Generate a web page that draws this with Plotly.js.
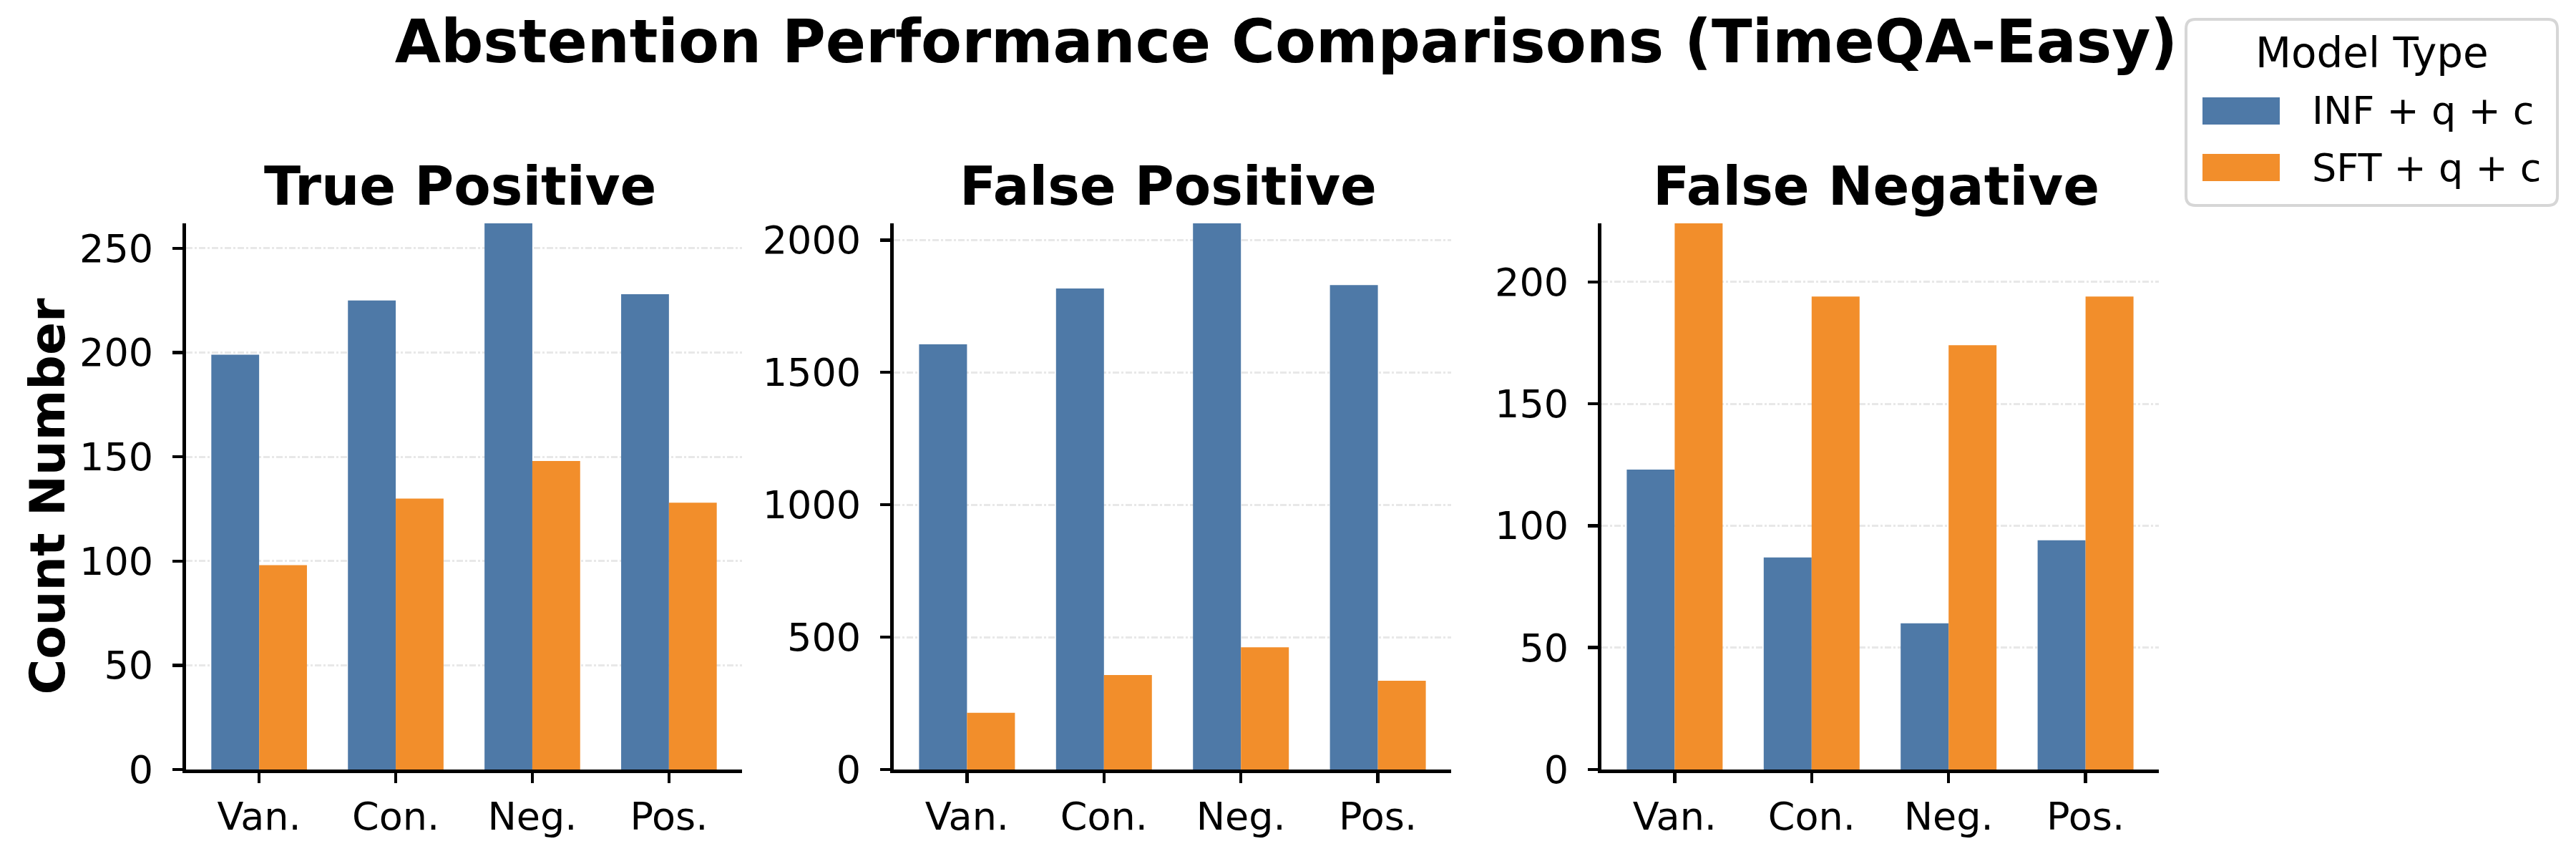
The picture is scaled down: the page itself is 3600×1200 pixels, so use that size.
<!DOCTYPE html>
<html>
<head>
<meta charset="utf-8">
<script src="https://cdn.plot.ly/plotly-3.0.1.min.js"></script>
<style>html,body{margin:0;padding:0;background:#fff;}</style>
</head>
<body>
<div id="chart" style="width:3600px;height:1200px;"></div>
<script>
// ---- data ----
const categories = ['Van.', 'Con.', 'Neg.', 'Pos.'];
const seriesNames = ['INF + q + c', 'SFT + q + c'];
const panelTitles = ['True Positive', 'False Positive', 'False Negative'];
const tpINF = [199, 225, 262, 228];
const tpSFT = [98, 130, 148, 128];
const fpINF = [1606, 1817, 2063, 1830];
const fpSFT = [214, 357, 462, 335];
const fnINF = [123, 87, 60, 94];
const fnSFT = [224, 194, 174, 194];
const yTickStep = [50, 500, 50];
const mainTitle = 'Abstention Performance Comparisons (TimeQA-Easy)';
const yLabel = 'Count Number';
const legendTitle = 'Model Type';

// ---- style ----
const W = 3600, H = 1200;
const colors = ['#4e79a7', '#f28e2b'];
const FONT = 'DejaVu Sans, sans-serif';
const TICK = 54;
const px = v => v / W;
const py = v => 1 - v / H;
const domainsX = [[260, 1037], [1249, 2028], [2238, 3017]];
const domainY = [py(1075), py(312)];

const panels = [[tpINF, tpSFT], [fpINF, fpSFT], [fnINF, fnSFT]];
const traces = [];
const layout = {
  width: W, height: H,
  margin: {l: 0, r: 0, t: 0, b: 0},
  paper_bgcolor: '#fff', plot_bgcolor: '#fff',
  font: {family: FONT, color: '#000', size: TICK},
  barmode: 'group', bargap: 0.3, bargroupgap: 0,
  showlegend: false,
  title: {text: '<b>' + mainTitle + '</b>', x: 0.4993, xanchor: 'center', xref: 'paper',
          y: py(58), yanchor: 'middle', yref: 'container',
          font: {family: FONT, size: 83, color: '#000'}},
  annotations: [], shapes: []
};

panels.forEach((pair, i) => {
  const xa = i === 0 ? 'x' : 'x' + (i + 1);
  const ya = i === 0 ? 'y' : 'y' + (i + 1);
  pair.forEach((vals, s) => {
    traces.push({
      type: 'bar', x: categories, y: vals, name: seriesNames[s],
      xaxis: xa, yaxis: ya, marker: {color: colors[s], line: {width: 0}},
      legendgroup: seriesNames[s], showlegend: false, hoverinfo: 'skip'
    });
  });
  const ymax = Math.max(...pair[0], ...pair[1]);
  const xKey = i === 0 ? 'xaxis' : 'xaxis' + (i + 1);
  const yKey = i === 0 ? 'yaxis' : 'yaxis' + (i + 1);
  layout[xKey] = {
    domain: [px(domainsX[i][0]), px(domainsX[i][1])], anchor: ya,
    type: 'category', range: [-0.535, 3.535],
    showline: true, linecolor: '#000', linewidth: 5,
    ticks: 'outside', ticklen: 14, tickwidth: 4.5, tickcolor: '#000',
    showgrid: false, zeroline: false, ticklabelstandoff: 0,
    tickfont: {family: FONT, size: TICK, color: '#000'}, fixedrange: true
  };
  layout[yKey] = {
    domain: domainY, anchor: xa, range: [0, ymax],
    showline: true, linecolor: '#000', linewidth: 5,
    ticks: 'outside', ticklen: 14, tickwidth: 4.5, tickcolor: '#000',
    dtick: yTickStep[i], tick0: 0,
    showgrid: true, gridcolor: '#e8e8e8', gridwidth: 3, griddash: 'dashdot',
    zeroline: false, ticklabelstandoff: 16,
    tickfont: {family: FONT, size: TICK, color: '#000'}, fixedrange: true
  };
  if (i === 0) {
    layout[yKey].title = {text: '<b>' + yLabel + '</b>', standoff: 0,
      font: {family: FONT, size: 68, color: '#000'}};
  }
  layout.annotations.push({
    text: '<b>' + panelTitles[i] + '</b>', xref: 'paper', yref: 'paper',
    x: px((domainsX[i][0] + domainsX[i][1]) / 2 - 6), xanchor: 'center',
    y: py(306), yanchor: 'bottom', showarrow: false,
    font: {family: FONT, size: 75, color: '#000'}
  });
});

// ---- legend (box, swatches, labels) ----
const lb = {x0: 3055, x1: 3574, y0: 27, y1: 287, r: 13};
const rx = lb.r / W, ry = lb.r / H;
const X0 = px(lb.x0), X1 = px(lb.x1), Y0 = py(lb.y1), Y1 = py(lb.y0);
layout.shapes.push({
  type: 'path', xref: 'paper', yref: 'paper',
  path: `M ${X0 + rx},${Y0} L ${X1 - rx},${Y0} Q ${X1},${Y0} ${X1},${Y0 + ry} L ${X1},${Y1 - ry} Q ${X1},${Y1} ${X1 - rx},${Y1} L ${X0 + rx},${Y1} Q ${X0},${Y1} ${X0},${Y1 - ry} L ${X0},${Y0 + ry} Q ${X0},${Y0} ${X0 + rx},${Y0} Z`,
  line: {color: '#d6d6d6', width: 4}, fillcolor: '#ffffff', layer: 'above'
});
layout.annotations.push({
  text: legendTitle, xref: 'paper', yref: 'paper', x: px(3315), xanchor: 'center',
  y: py(74), yanchor: 'middle', showarrow: false,
  font: {family: FONT, size: 58, color: '#000'}
});
const swY = [[136, 174], [215, 253]];
seriesNames.forEach((name, s) => {
  layout.shapes.push({
    type: 'rect', xref: 'paper', yref: 'paper',
    x0: px(3078), x1: px(3186), y0: py(swY[s][1]), y1: py(swY[s][0]),
    fillcolor: colors[s], line: {width: 0}, layer: 'above'
  });
  layout.annotations.push({
    text: name, xref: 'paper', yref: 'paper', x: px(3229), xanchor: 'left',
    y: py((swY[s][0] + swY[s][1]) / 2), yanchor: 'middle', showarrow: false,
    font: {family: FONT, size: 54, color: '#000'}
  });
});

Plotly.newPlot('chart', traces, layout, {staticPlot: true, displayModeBar: false});
</script>
</body>
</html>
